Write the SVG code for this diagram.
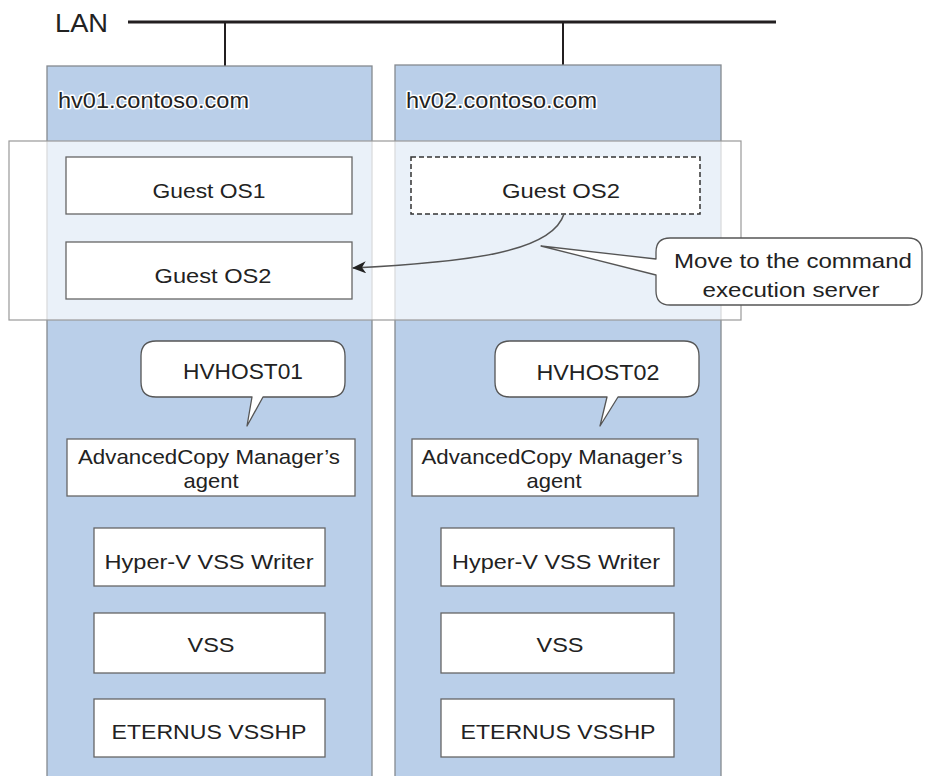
<svg xmlns="http://www.w3.org/2000/svg" width="925" height="776" viewBox="0 0 925 776">
<style>
text{font-family:"Liberation Sans",Arial,sans-serif;fill:#222;}
.t{font-size:21px;text-anchor:middle;}
.host{fill:#bacfe9;stroke:#858a90;stroke-width:1.3;}
.box{fill:#fff;stroke:#666;stroke-width:1.3;}
.halo{stroke:#fff;stroke-width:3;paint-order:stroke;stroke-linejoin:round;}
.call{fill:#fff;stroke:#555;stroke-width:1.3;stroke-linejoin:round;}
</style>
<defs>
<marker id="ah" markerWidth="14" markerHeight="12" refX="13" refY="6" orient="auto" markerUnits="userSpaceOnUse">
<path d="M0,0 L14,6 L0,12 L4,6 Z" fill="#222"/>
</marker>
</defs>
<rect width="925" height="776" fill="#fff"/>
<g id="lan">
<text x="55" y="32" style="font-size:25px" textLength="53" lengthAdjust="spacingAndGlyphs">LAN</text>
<line x1="128" y1="22" x2="776" y2="22" stroke="#231f20" stroke-width="3"/>
<line x1="225" y1="22" x2="225" y2="66" stroke="#231f20" stroke-width="2"/>
<line x1="563" y1="22" x2="563" y2="66" stroke="#231f20" stroke-width="2"/>
</g>
<g id="hv01">
<rect class="host" x="47" y="66" width="325" height="720"/>
<text class="halo" x="58" y="108" style="font-size:22px" textLength="191" lengthAdjust="spacingAndGlyphs">hv01.contoso.com</text>
</g>
<g id="hv02">
<rect class="host" x="395" y="65" width="326" height="720"/>
<text class="halo" x="406" y="108" style="font-size:22px" textLength="191" lengthAdjust="spacingAndGlyphs">hv02.contoso.com</text>
</g>
<g id="vm-area">
<rect x="9" y="141" width="732" height="179" fill="#fff" fill-opacity="0.7" stroke="#999" stroke-width="1.2"/>
</g>
<g id="guest-os1">
<rect class="box" x="66" y="157" width="286" height="57"/>
<text class="t" x="209" y="198" textLength="113" lengthAdjust="spacingAndGlyphs">Guest OS1</text>
</g>
<g id="guest-os2-moved">
<rect class="box" x="66" y="242" width="286" height="57"/>
<text class="t" x="213" y="283" textLength="117" lengthAdjust="spacingAndGlyphs">Guest OS2</text>
</g>
<g id="guest-os2-orig">
<rect x="411" y="157" width="289" height="57" fill="#fff" stroke="#333" stroke-width="1.5" stroke-dasharray="5,3"/>
<text class="t" x="561" y="198" textLength="118" lengthAdjust="spacingAndGlyphs">Guest OS2</text>
</g>
<g id="connectors">
<path d="M564,214 C552,252 470,262 353,268" fill="none" stroke="#555" stroke-width="1.5" marker-end="url(#ah)"/>
</g>
<g id="move-callout">
<path class="call" d="M670,238 H908 Q922,238 922,252 V291 Q922,305 908,305 H670 Q656,305 656,291 V275 L541,246 L656,259 V252 Q656,238 670,238 Z"/>
<text class="t" x="793" y="268" textLength="238" lengthAdjust="spacingAndGlyphs">Move to the command</text>
<text class="t" x="791" y="297" textLength="177" lengthAdjust="spacingAndGlyphs">execution server</text>
</g>
<g id="hvhost01">
<path class="call" d="M156,341 H330 Q345,341 345,356 V382 Q345,397 330,397 H263 L247,426 L252,397 H156 Q141,397 141,382 V356 Q141,341 156,341 Z"/>
<text class="t" x="243" y="379" style="font-size:22px" textLength="120" lengthAdjust="spacingAndGlyphs">HVHOST01</text>
</g>
<g id="hvhost02">
<path class="call" d="M510,341 H684 Q699,341 699,356 V382 Q699,397 684,397 H618 L600,426 L607,397 H510 Q495,397 495,382 V356 Q495,341 510,341 Z"/>
<text class="t" x="598" y="380" style="font-size:22px" textLength="123" lengthAdjust="spacingAndGlyphs">HVHOST02</text>
</g>
<g id="acm-agent1">
<rect class="box" x="67" y="439" width="288" height="57"/>
<text class="t" x="209" y="464" textLength="262" lengthAdjust="spacingAndGlyphs">AdvancedCopy Manager’s</text>
<text class="t halo" x="211" y="488" textLength="55" lengthAdjust="spacingAndGlyphs">agent</text>
</g>
<g id="acm-agent2">
<rect class="box" x="412" y="439" width="286" height="57"/>
<text class="t" x="552" y="464" textLength="261" lengthAdjust="spacingAndGlyphs">AdvancedCopy Manager’s</text>
<text class="t halo" x="554" y="488" textLength="55" lengthAdjust="spacingAndGlyphs">agent</text>
</g>
<g id="vss-writer1">
<rect class="box" x="94" y="528" width="231" height="58"/>
<text class="t" x="209" y="569" textLength="209" lengthAdjust="spacingAndGlyphs">Hyper-V VSS Writer</text>
</g>
<g id="vss-writer2">
<rect class="box" x="441" y="528" width="233" height="58"/>
<text class="t" x="556" y="569" textLength="208" lengthAdjust="spacingAndGlyphs">Hyper-V VSS Writer</text>
</g>
<g id="vss1">
<rect class="box" x="94" y="613" width="231" height="60"/>
<text class="t" x="211" y="652" textLength="47" lengthAdjust="spacingAndGlyphs">VSS</text>
</g>
<g id="vss2">
<rect class="box" x="441" y="613" width="233" height="60"/>
<text class="t" x="560" y="652" textLength="47" lengthAdjust="spacingAndGlyphs">VSS</text>
</g>
<g id="vsshp1">
<rect class="box" x="94" y="699" width="231" height="58"/>
<text class="t" x="209" y="739" textLength="195" lengthAdjust="spacingAndGlyphs">ETERNUS VSSHP</text>
</g>
<g id="vsshp2">
<rect class="box" x="441" y="699" width="233" height="58"/>
<text class="t" x="558" y="739" textLength="195" lengthAdjust="spacingAndGlyphs">ETERNUS VSSHP</text>
</g>
</svg>
